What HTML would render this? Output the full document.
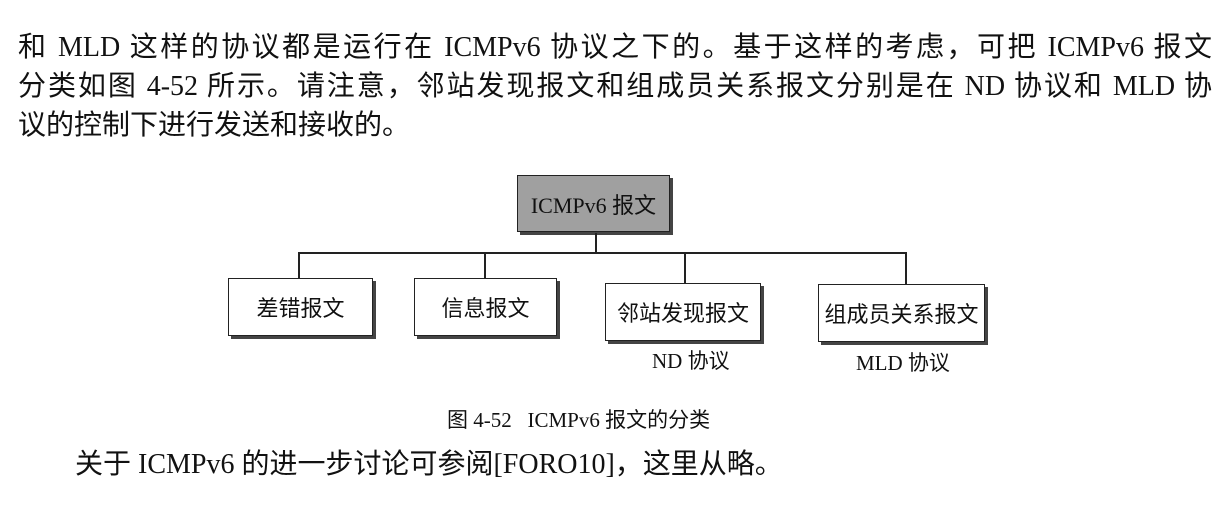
<!DOCTYPE html>
<html><head><meta charset="utf-8"><style>
body{margin:0;width:1232px;height:508px;background:#fff;position:relative;overflow:hidden;font-family:"Liberation Serif","Noto Sans CJK SC",serif;color:#111}
.l{position:absolute;left:18px;width:1194px;font-size:28px;line-height:30px;white-space:nowrap}
.j{text-align:justify;text-align-last:justify}
.b{position:absolute;border:1.5px solid #222;background:#fff;box-shadow:3px 3px 0 #444;font-size:22px;display:flex;align-items:center;justify-content:center;box-sizing:border-box}
.ln{position:absolute;background:#222}
.t{position:absolute;font-size:21px;white-space:nowrap}
</style></head><body>
<div class="l j" style="top:33px">和 MLD 这样的协议都是运行在 ICMPv6 协议之下的。基于这样的考虑，可把 ICMPv6 报文</div>
<div class="l j" style="top:72px">分类如图 4-52 所示。请注意，邻站发现报文和组成员关系报文分别是在 ND 协议和 MLD 协</div>
<div class="l" style="top:111px">议的控制下进行发送和接收的。</div>

<div class="b" style="left:517px;top:175px;width:153px;height:57px;background:#a0a0a0">ICMPv6 报文</div>
<div class="ln" style="left:595px;top:233px;width:1.5px;height:20px"></div>
<div class="ln" style="left:298px;top:252px;width:608px;height:1.5px"></div>
<div class="ln" style="left:298px;top:252px;width:1.5px;height:27px"></div>
<div class="ln" style="left:484px;top:252px;width:1.5px;height:27px"></div>
<div class="ln" style="left:684px;top:252px;width:1.5px;height:32px"></div>
<div class="ln" style="left:905px;top:252px;width:1.5px;height:32px"></div>
<div class="b" style="left:228px;top:278px;width:145px;height:58px">差错报文</div>
<div class="b" style="left:414px;top:278px;width:143px;height:58px">信息报文</div>
<div class="b" style="left:605px;top:283px;width:156px;height:58px">邻站发现报文</div>
<div class="b" style="left:818px;top:284px;width:167px;height:58px">组成员关系报文</div>
<div class="t" style="left:652px;top:345px">ND 协议</div>
<div class="t" style="left:856px;top:347px">MLD 协议</div>
<div class="t" style="left:447px;top:404px">图 4-52&nbsp;&nbsp;&nbsp;ICMPv6 报文的分类</div>
<div class="l" style="top:450px;left:75px">关于 ICMPv6 的进一步讨论可参阅[FORO10]，这里从略。</div>
</body></html>
